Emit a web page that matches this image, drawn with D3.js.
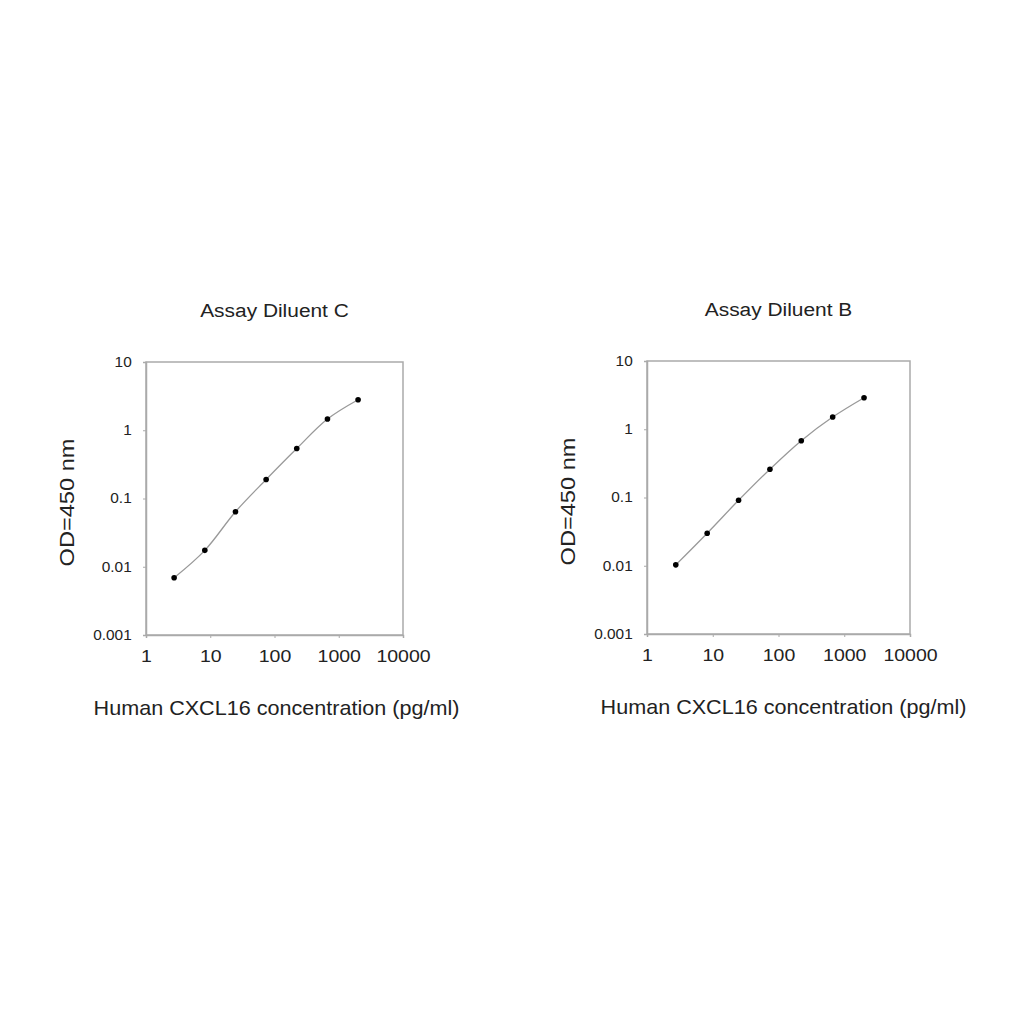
<!DOCTYPE html>
<html>
<head>
<meta charset="utf-8">
<script src="https://cdn.jsdelivr.net/npm/d3@7"></script>
<style>
  html, body { margin: 0; padding: 0; background: #fff; }
  svg text { font-family: 'Liberation Sans', Arial, sans-serif; fill: #222; }
</style>
</head>
<body>
<svg id="chart" width="1024" height="1024"></svg>
<script>
// dilution series (pg/ml) shared by both panels
const concentrations = [2.74, 8.23, 24.7, 74.1, 222, 667, 2000]

const odDiluentC = [0.0069, 0.0174, 0.064, 0.19, 0.54, 1.46, 2.8]
const odDiluentB = [0.0103, 0.030, 0.091, 0.26, 0.68, 1.51, 2.9]

const xTicks = [1, 10, 100, 1000, 10000]
const yTicks = [0.001, 0.01, 0.1, 1, 10]

const panels = [
  { title: 'Assay Diluent C', values: odDiluentC, left: 146, top: 362, width: 257, height: 273, labelShift: 2 },
  { title: 'Assay Diluent B', values: odDiluentB, left: 647, top: 361, width: 263, height: 273, labelShift: 5 }
]

const svg = d3.select('#chart')

// the source picture has its text a bit wider than the font, so stretch it sideways
function stretchedText (g, x, y, rot, sx, size, str) {
  return g.append('text')
    .attr('transform', 'translate(' + x + ',' + y + ') rotate(' + rot + ') scale(' + sx + ',1)')
    .attr('text-anchor', 'middle')
    .style('font-size', size + 'px')
    .text(str)
}

panels.forEach(function (p) {
  const x = d3.scaleLog().domain([1, 10000]).range([0, p.width])
  const y = d3.scaleLog().domain([0.001, 10]).range([p.height, 0])

  const g = svg.append('g')
    .attr('transform', 'translate(' + p.left + ',' + p.top + ')')

  // frame
  g.append('rect')
    .attr('width', p.width)
    .attr('height', p.height)
    .attr('fill', 'none')
    .attr('stroke', '#aaa')
    .attr('stroke-width', 1.5)

  const xAxis = g.append('g')
    .attr('transform', 'translate(0,' + p.height + ')')
    .call(d3.axisBottom(x).tickValues(xTicks).tickFormat(d3.format('d')).tickSize(3).tickPadding(13))
  const yAxis = g.append('g')
    .call(d3.axisLeft(y).tickValues(yTicks).tickFormat(d => String(d)).tickSize(3).tickPadding(10))

  ;[xAxis, yAxis].forEach(function (a) {
    a.select('.domain').attr('stroke', '#aaa').attr('stroke-width', 1.5)
    a.selectAll('.tick line').attr('stroke', '#aaa')
  })
  xAxis.selectAll('.tick text').style('font-size', '16px').attr('fill', '#222').attr('transform', 'scale(1.22,1)')
  yAxis.selectAll('.tick text').style('font-size', '14px').attr('fill', '#222').attr('transform', 'scale(1.1,1)')

  const pts = concentrations.map((c, i) => [c, p.values[i]])

  g.append('path')
    .datum(pts)
    .attr('fill', 'none')
    .attr('stroke', '#999')
    .attr('stroke-width', 1.3)
    .attr('d', d3.line().x(d => x(d[0])).y(d => y(d[1])).curve(d3.curveCatmullRom.alpha(0.5)))

  g.selectAll('circle')
    .data(pts)
    .enter().append('circle')
    .attr('cx', d => x(d[0]))
    .attr('cy', d => y(d[1]))
    .attr('r', 2.8)
    .attr('fill', '#000')

  stretchedText(g, p.width / 2, -45, 0, 1.1, 19, p.title)
  stretchedText(g, p.width / 2 + p.labelShift, p.height + 80, 0, 1.08, 20, 'Human CXCL16 concentration (pg/ml)')
  stretchedText(g, -72, p.height / 2 + 4, -90, 1.18, 20, 'OD=450 nm')
})
</script>
</body>
</html>
